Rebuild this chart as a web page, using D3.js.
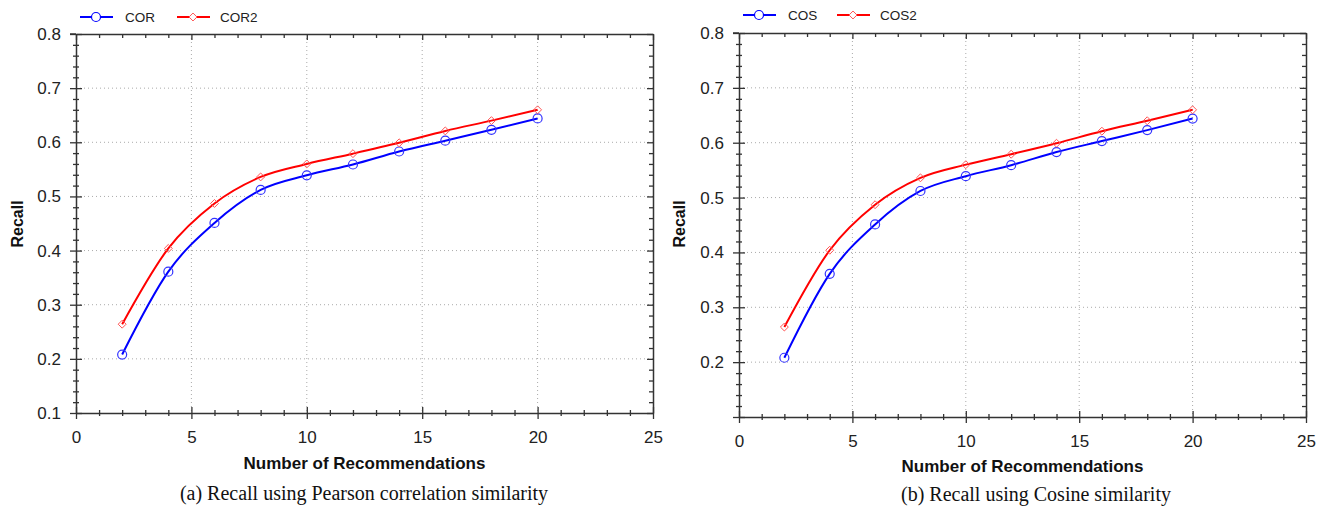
<!DOCTYPE html>
<html><head><meta charset="utf-8">
<script src="https://cdn.jsdelivr.net/npm/d3@7"></script>
<style>
body{margin:0;background:#fff;}
svg{display:block;}
text{font-family:"Liberation Sans",Arial,sans-serif;}
</style></head>
<body><svg id="chart" width="1325" height="506"></svg>
<script>
const recs = [2,4,6,8,10,12,14,16,18,20];
const corValues  = [0.208,0.361,0.451,0.512,0.539,0.559,0.583,0.603,0.623,0.644];
const cor2Values = [0.264,0.404,0.487,0.536,0.560,0.579,0.599,0.621,0.640,0.660];
const cosValues  = [0.208,0.361,0.451,0.512,0.539,0.559,0.583,0.603,0.623,0.644];
const cos2Values = [0.264,0.404,0.487,0.536,0.560,0.579,0.599,0.621,0.640,0.660];
const xTicks = [0,5,10,15,20,25];
const yTicksLeft = [0.1,0.2,0.3,0.4,0.5,0.6,0.7,0.8];
const yTicksRight = [0.2,0.3,0.4,0.5,0.6,0.7,0.8];

const svg = d3.select("#chart");
const axisColor = "#333";

function panel(o){
  const x = d3.scaleLinear().domain([0,25]).range([o.x0,o.x1]);
  const y = d3.scaleLinear().domain([0.1,0.8]).range([o.yb,o.yt]);
  const g = svg.append("g");
  const gridX = [5,10,15,20], gridY = [0.2,0.3,0.4,0.5,0.6,0.7];
  g.selectAll(".gx").data(gridX).join("line")
    .attr("x1",d=>x(d)).attr("x2",d=>x(d)).attr("y1",o.yt).attr("y2",o.yb)
    .attr("stroke","#aaa").attr("stroke-width",1).attr("stroke-dasharray","1,3");
  g.selectAll(".gy").data(gridY).join("line")
    .attr("y1",d=>y(d)).attr("y2",d=>y(d)).attr("x1",o.x0).attr("x2",o.x1)
    .attr("stroke","#aaa").attr("stroke-width",1).attr("stroke-dasharray","1,3");

  const minorX = d3.range(0,26,1), minorY = d3.range(0,36).map(i=>+(0.1+i*0.02).toFixed(2));
  const isMajX = d=>d%5===0;
  const isMajY = d=>Math.abs(Math.round(d*10)-d*10)<1e-6;

  function style(sel){
    sel.select(".domain").attr("stroke",axisColor).attr("stroke-width",1.5);
    sel.selectAll(".tick line").attr("stroke",axisColor).attr("stroke-width",1.3);
    sel.selectAll(".tick text").attr("fill","#222").style("font-size","17px").style("font-family","'Liberation Sans',Arial,sans-serif");
  }
  const bx = g.append("g").attr("transform",`translate(0,${o.yb})`)
    .call(d3.axisBottom(x).tickValues(minorX).tickSize(0).tickPadding(18).tickFormat(d=>xTicks.includes(d)?d:""));
  style(bx);
  bx.selectAll(".tick line").attr("y1",d=>isMajX(d)?-6:-3).attr("y2",d=>isMajX(d)?6:3);
  const ly = g.append("g").attr("transform",`translate(${o.x0},0)`)
    .call(d3.axisLeft(y).tickValues(minorY).tickSize(0).tickPadding(o.yPad)
      .tickFormat(d=>{const t=o.yLabels.find(v=>Math.abs(v-d)<1e-6);return t!==undefined?d3.format(".1f")(t):"";}));
  style(ly);
  ly.selectAll(".tick line").attr("x1",d=>isMajY(d)?-6:-3).attr("x2",d=>isMajY(d)?6:3);
  const tx = g.append("g").attr("transform",`translate(0,${o.yt})`)
    .call(d3.axisBottom(x).tickValues(minorX).tickSize(0).tickFormat(""));
  style(tx);
  tx.selectAll(".tick line").attr("y1",0).attr("y2",d=>isMajX(d)?6:4);
  const ry = g.append("g").attr("transform",`translate(${o.x1},0)`)
    .call(d3.axisLeft(y).tickValues(minorY).tickSize(0).tickFormat(""));
  style(ry);
  ry.selectAll(".tick line").attr("x1",0).attr("x2",d=>isMajY(d)?-6:-4);
  g.append("line").attr("x1",o.x0-6).attr("x2",o.x0).attr("y1",o.yt).attr("y2",o.yt).attr("stroke",axisColor).attr("stroke-width",1.5);

  const line = d3.line().x((d,i)=>x(recs[i])).y(d=>y(d)).curve(d3.curveMonotoneX);
  g.append("path").datum(o.s1).attr("d",line).attr("fill","none").attr("stroke","#0000ff").attr("stroke-width",2);
  g.append("path").datum(o.s2).attr("d",line).attr("fill","none").attr("stroke","#ff0000").attr("stroke-width",2);
  g.selectAll(".c").data(o.s1).join("circle").attr("cx",(d,i)=>x(recs[i])).attr("cy",d=>y(d)).attr("r",4.5)
    .attr("fill","none").attr("stroke","#3333ff").attr("stroke-width",1.2);
  const dia = d3.symbol().type(d3.symbolDiamond2).size(40);
  g.selectAll(".dm").data(o.s2).join("path").attr("d",dia)
    .attr("transform",(d,i)=>`translate(${x(recs[i])},${y(d)})`)
    .attr("fill","none").attr("stroke","#ff5555").attr("stroke-width",1);

  const lg = g.append("g");
  lg.append("line").attr("x1",o.lx).attr("x2",o.lx+33).attr("y1",o.ly).attr("y2",o.ly).attr("stroke","#0000ff").attr("stroke-width",2);
  lg.append("circle").attr("cx",o.lx+16).attr("cy",o.ly).attr("r",4.5).attr("fill","#fff").attr("stroke","#0000ff").attr("stroke-width",1.2);
  lg.append("text").attr("x",o.lx+45).attr("y",o.ly+5).text(o.n1).style("font-size","13.5px").attr("fill","#222");
  lg.append("line").attr("x1",o.lx2).attr("x2",o.lx2+33).attr("y1",o.ly).attr("y2",o.ly).attr("stroke","#ff0000").attr("stroke-width",2);
  lg.append("path").attr("d",dia).attr("transform",`translate(${o.lx2+16},${o.ly})`).attr("fill","#fff").attr("stroke","#ff5555").attr("stroke-width",1);
  lg.append("text").attr("x",o.lx2+43).attr("y",o.ly+5).text(o.n2).style("font-size","13.5px").attr("fill","#222");

  g.append("text").attr("x",(o.x0+o.x1)/2).attr("y",o.xlY).attr("text-anchor","middle")
    .style("font-size","17px").style("font-weight","bold").attr("fill","#111").text("Number of Recommendations");
  g.append("text").attr("transform",`translate(${o.ylX},${o.ylY}) rotate(-90)`).attr("text-anchor","middle")
    .style("font-size","16px").style("font-weight","bold").attr("fill","#111").text("Recall");
  g.append("text").attr("x",o.capX).attr("y",o.capY).attr("text-anchor","middle")
    .style("font-family","'Liberation Serif','Times New Roman',serif").style("font-size","20px").attr("fill","#111").text(o.cap);
}

panel({x0:76,x1:653,yt:34,yb:413,s1:corValues,s2:cor2Values,n1:"COR",n2:"COR2",lx:80,lx2:177,ly:17,yPad:15,
  yLabels:yTicksLeft,xlY:469,ylX:23,ylY:224,capX:364,capY:500,cap:"(a) Recall using Pearson correlation similarity"});
panel({x0:739,x1:1306,yt:33,yb:417,s1:cosValues,s2:cos2Values,n1:"COS",n2:"COS2",lx:743,lx2:837,ly:15,yPad:15,
  yLabels:yTicksRight,xlY:472,ylX:685,ylY:224,capX:1036,capY:501,cap:"(b) Recall using Cosine similarity"});
</script></body></html>
